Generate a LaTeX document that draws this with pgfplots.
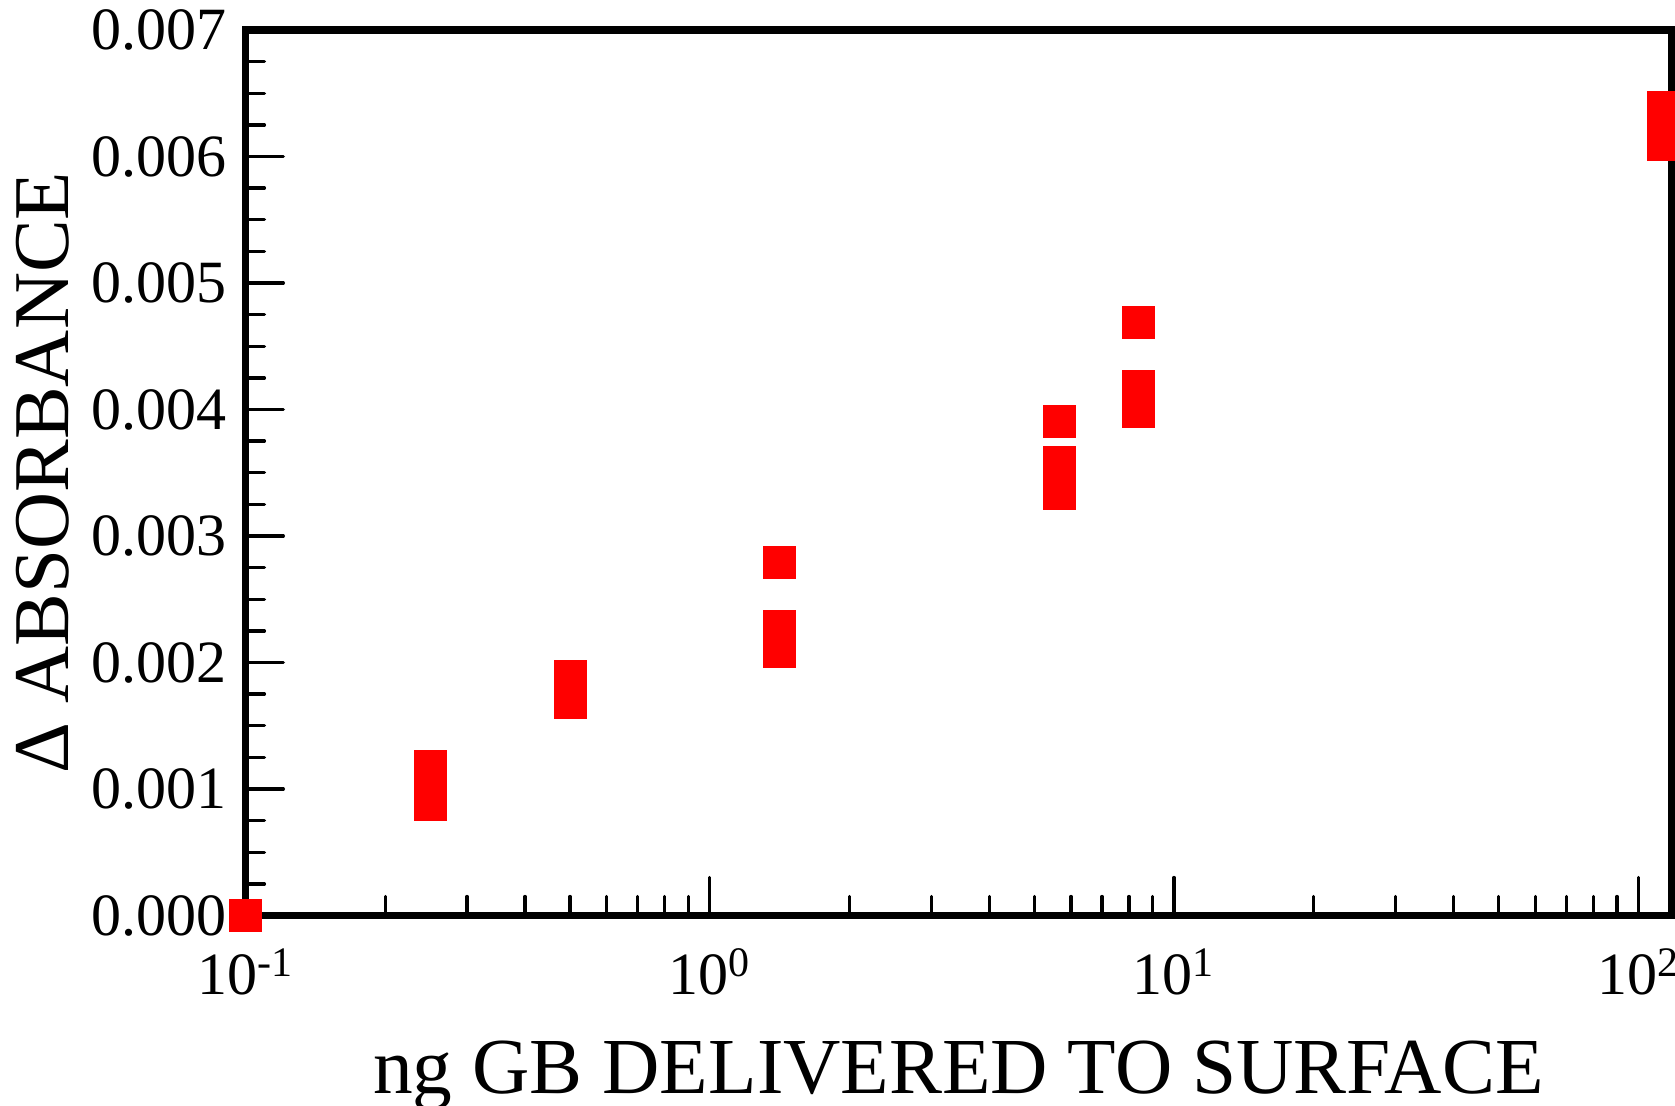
\documentclass[border=0pt]{standalone}
\usepackage{fontspec}
\setmainfont{Liberation Serif}
\usepackage{pgfplots}
\pgfplotsset{compat=1.18}
\begin{document}
\begin{tikzpicture}
\begin{axis}[
  at={(0,0)}, anchor=south west,
  scale only axis,
  width=713pt, height=442.75pt,
  xmode=log, xmin=0.1, xmax=118,
  ymin=0, ymax=0.007,
  clip=false,
  axis line style={line width=3.75pt},
  every tick/.style={black, line width=1.65pt, line cap=round},
  major tick length=19pt, minor tick length=9.5pt,
  xtick pos=bottom, ytick pos=left,
  tick align=inside,
  xtick={0.1,1,10,100},
  xticklabels={10\textsuperscript{-1},10\textsuperscript{0},10\textsuperscript{1},10\textsuperscript{2}},
  minor xtick={0.2,0.3,0.4,0.5,0.6,0.7,0.8,0.9,2,3,4,5,6,7,8,9,20,30,40,50,60,70,80,90},
  ytick={0,0.001,0.002,0.003,0.004,0.005,0.006,0.007},
  minor y tick num=3,
  scaled y ticks=false,
  yticklabel style={/pgf/number format/.cd, fixed, fixed zerofill, precision=3, assume math mode=true},
  ticklabel style={font=\fontsize{30}{32}\selectfont},
  xticklabel shift=13pt,
  yticklabel shift=6pt,
  xlabel={ng GB DELIVERED TO SURFACE},
  ylabel={Δ ABSORBANCE},
  xlabel style={font=\fontsize{39.7}{41}\selectfont},
  ylabel style={font=\fontsize{39.5}{41}\selectfont},
  xlabel shift=16pt,
  ylabel shift=4pt,
]
\addplot[only marks, mark=square*, mark size=8pt, mark options={fill=red, draw=red, line width=0.1pt}] coordinates {
(0.1,0)
(0.25,0.001182) (0.25,0.001087) (0.25,0.000881)
(0.5,0.001893) (0.5,0.001688)
(1.412,0.00279) (1.412,0.002289) (1.412,0.002091)
(5.67,0.003909) (5.67,0.003585) (5.67,0.00334)
(8.36,0.004692) (8.36,0.004186) (8.36,0.003988)
(113,0.006391) (113,0.006245) (113,0.006099)
};
\end{axis}
\pgfresetboundingbox
\path[use as bounding box] (-122.75pt,-94.75pt) rectangle (714.75pt,457.75pt);
\end{tikzpicture}
\end{document}
